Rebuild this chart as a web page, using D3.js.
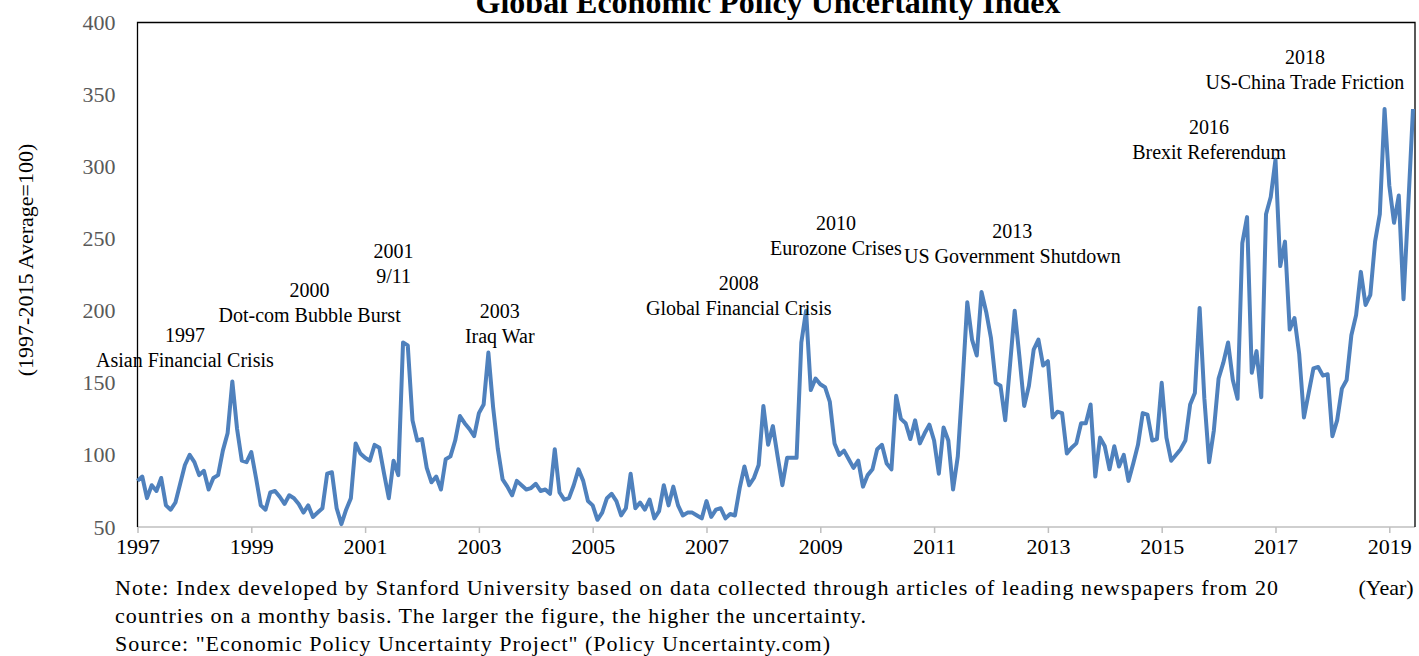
<!DOCTYPE html>
<html>
<head>
<meta charset="utf-8">
<script src="https://cdn.jsdelivr.net/npm/d3@7"></script>
<style>
  html, body { margin: 0; padding: 0; background: #fff; }
  svg { display: block; font-family: 'Liberation Serif', 'Times New Roman', serif; }
</style>
</head>
<body>
<div id="chart"></div>
<script>
// monthly index, Jan 1997 .. Jun 2019
const startYear = 1997;
const epu = [
  82, 85, 70, 79, 75, 84, 65, 62, 67, 80, 93, 100,
  95, 86, 89, 76, 84, 86, 103, 115, 151, 118, 96, 95,
  102, 84, 65, 62, 74, 75, 71, 66, 72, 70, 66, 60,
  65, 57, 60, 63, 87, 88, 63, 52, 62, 70, 108, 101,
  98, 96, 107, 105, 87, 70, 96, 86, 178, 176, 124, 110,
  111, 91, 81, 85, 76, 97, 99, 110, 127, 122, 118, 113,
  129, 135, 171, 133, 104, 83, 78, 72, 82, 79, 76, 77,
  80, 75, 76, 73, 104, 74, 69, 70, 79, 90, 82, 68,
  65, 55, 60, 70, 73, 68, 58, 63, 87, 63, 67, 62,
  69, 56, 61, 79, 65, 78, 65, 58, 60, 60, 58, 56,
  68, 57, 62, 63, 56, 59, 58, 77, 92, 79, 84, 93,
  134, 107, 120, 99, 79, 98, 98, 98, 178, 200, 145, 153,
  149, 147, 137, 108, 100, 103, 97, 91, 96, 78, 86, 90,
  104, 107, 94, 90, 141, 125, 122, 111, 124, 108, 115, 121,
  110, 87, 119, 110, 76, 99, 150, 206, 180, 169, 213, 199,
  181, 150, 148, 124, 162, 200, 168, 134, 148, 173, 180, 162,
  165, 126, 130, 129, 101, 105, 108, 122, 122, 135, 85, 112,
  106, 90, 106, 92, 100, 82, 94, 107, 129, 128, 110, 111,
  150, 112, 96, 100, 104, 110, 135, 143, 202, 139, 95, 117,
  153, 164, 178, 152, 139, 247, 265, 157, 172, 140, 267, 279,
  305, 231, 248, 187, 195, 170, 126, 143, 160, 161, 155, 156,
  113, 124, 146, 152, 183, 197, 227, 204, 211, 248, 267, 340,
  287, 261, 280, 208, 273, 340
];

const yTicks = [50, 100, 150, 200, 250, 300, 350, 400];
const xTickYears = [1997, 1999, 2001, 2003, 2005, 2007, 2009, 2011, 2013, 2015, 2017, 2019];

const eventYears = ['1997', '2000', '2001', '2003', '2008', '2010', '2013', '2016', '2018'];
const eventNames = ['Asian Financial Crisis', 'Dot-com Bubble Burst', '9/11', 'Iraq War',
  'Global Financial Crisis', 'Eurozone Crises', 'US Government Shutdown',
  'Brexit Referendum', 'US-China Trade Friction'];

const title = 'Global Economic Policy Uncertainty Index';
const yTitle = '(1997-2015 Average=100)';
const xUnit = '(Year)';
const noteLines = [
  'Note: Index developed by Stanford University based on data collected through articles of leading newspapers from 20',
  'countries on a monthy basis. The larger the figure, the higher the uncertainty.',
  'Source: "Economic Policy Uncertainty Project" (Policy Uncertainty.com)'
];

const width = 1419;
const height = 656;
const plot = {left: 137.5, top: 22.5, right: 1415, bottom: 527};

// where each event label sits, in (month index, index value)
const eventAnchor = [
  [10.0, 166], [36.3, 197], [54.0, 224], [76.4, 182.5], [126.8, 202],
  [147.3, 243.5], [184.5, 238], [226.0, 310.5], [246.2, 359]
];
// the note is set wide in the original
const noteWidths = [1163, 751, 715];

let x = d3.scaleLinear()
    .domain([0, epu.length - 1])
    .range([plot.left, 1413]);

let y = d3.scaleLinear()
    .domain([50, 400])
    .range([plot.bottom, plot.top]);

let svg = d3.select('#chart')
  .append('svg')
    .attr('width', width)
    .attr('height', height);

// y tick labels
svg.append('g')
    .attr('transform', 'translate(' + plot.left + ',0)')
    .call(d3.axisLeft(y).tickValues(yTicks).tickSize(0).tickPadding(22))
    .call(function(g) {
      g.select('.domain').remove();
      g.selectAll('text')
          .attr('fill', '#595959')
          .attr('font-family', 'Liberation Serif')
          .attr('font-size', 22);
    });

// x axis
let monthTicks = xTickYears.map(function(yr) {
  return (yr - startYear) * 12;
});

svg.append('g')
    .attr('transform', 'translate(0,' + plot.bottom + ')')
    .call(d3.axisBottom(x).tickValues(monthTicks).tickSize(6).tickPadding(5)
      .tickFormat(function(d) {
        return startYear + d / 12;
      }))
    .call(function(g) {
      g.select('.domain')
          .attr('stroke', '#bfbfbf')
          .attr('stroke-width', 1.5)
          .attr('d', 'M' + plot.left + ',0H' + plot.right);
      g.selectAll('.tick line')
          .attr('stroke', '#bfbfbf')
          .attr('stroke-width', 1.5);
      g.selectAll('text')
          .attr('fill', '#000')
          .attr('font-family', 'Liberation Serif')
          .attr('font-size', 22);
    });

// plot frame: left, top, right
svg.append('path')
    .attr('d', 'M' + plot.left + ',' + plot.bottom + 'V' + plot.top + 'H' + plot.right + 'V' + plot.bottom)
    .attr('fill', 'none')
    .attr('stroke', '#000')
    .attr('stroke-width', 1.3);

let line = d3.line()
    .x(function(d, i) {
      return x(i);
    })
    .y(function(d) {
      return y(d);
    });

svg.append('path')
    .datum(epu)
    .attr('d', line)
    .attr('fill', 'none')
    .attr('stroke', '#4f81bd')
    .attr('stroke-width', 4)
    .attr('stroke-linejoin', 'round');

// event labels
let events = svg.append('g')
    .attr('font-size', 20)
    .attr('text-anchor', 'middle')
    .attr('fill', '#000');

eventNames.forEach(function(name, i) {
  let cx = x(eventAnchor[i][0]);
  let cy = y(eventAnchor[i][1]);
  events.append('text')
      .attr('x', cx)
      .attr('y', cy - 25)
      .attr('dy', '0.35em')
      .text(eventYears[i]);
  events.append('text')
      .attr('x', cx)
      .attr('y', cy)
      .attr('dy', '0.35em')
      .text(name);
});

svg.append('text')
    .attr('x', 768)
    .attr('y', 13)
    .attr('text-anchor', 'middle')
    .attr('font-weight', 'bold')
    .attr('font-size', 32)
    .text(title);

svg.append('text')
    .attr('transform', 'translate(25,260) rotate(-90)')
    .attr('text-anchor', 'middle')
    .attr('dy', '0.35em')
    .attr('font-size', 22)
    .text(yTitle);

svg.append('text')
    .attr('x', 1386)
    .attr('y', 595)
    .attr('text-anchor', 'middle')
    .attr('font-size', 22)
    .text(xUnit);

svg.append('g')
    .attr('font-size', 22)
  .selectAll('text')
    .data(noteLines)
  .enter()
  .append('text')
    .attr('x', 115)
    .attr('y', function(d, i) {
      return 595 + i * 28;
    })
    .attr('textLength', function(d, i) {
      return noteWidths[i];
    })
    .attr('lengthAdjust', 'spacing')
    .text(function(d) {
      return d;
    });
</script>
</body>
</html>
